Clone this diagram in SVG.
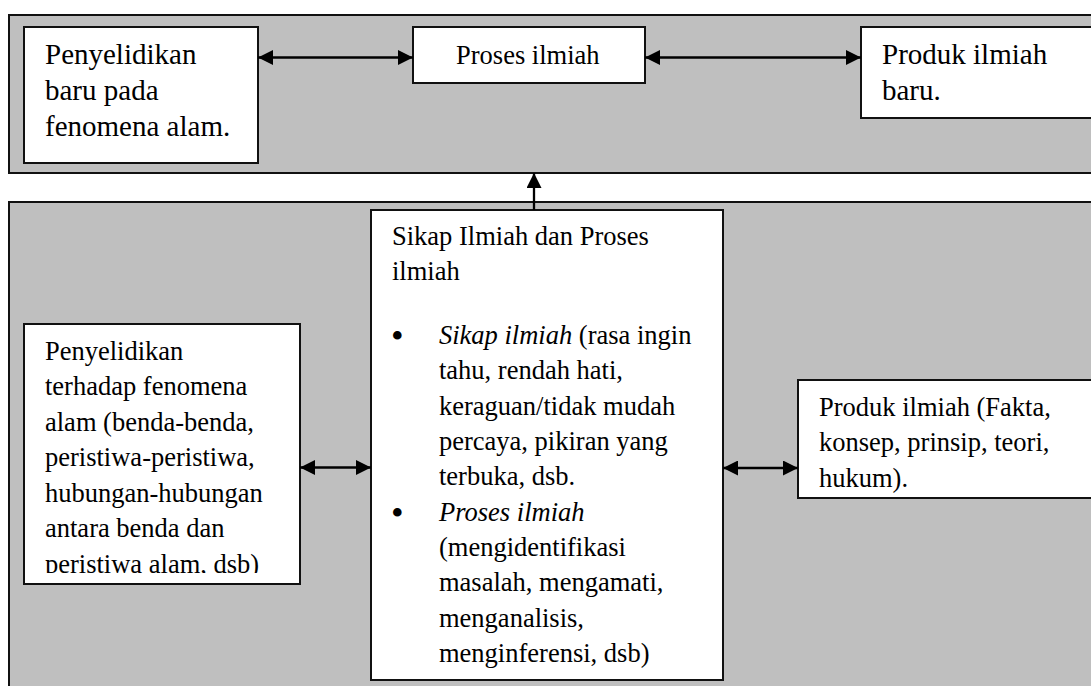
<svg xmlns="http://www.w3.org/2000/svg" width="1091" height="686" viewBox="0 0 1091 686">
<style>
.panel{fill:#bfbfbf;stroke:#111;stroke-width:2}
.box{fill:#fff;stroke:#111;stroke-width:2}
.t{font-family:"Liberation Serif","Times New Roman",serif;font-size:26.5px;fill:#000}
.big{font-size:29px}
.it{font-style:italic}
.bul{font-size:36px}
.conn{stroke:#000;stroke-width:2.3;fill:none}
</style>
<defs>
<marker id="ah" viewBox="0 0 15 15" markerWidth="15" markerHeight="15" refX="15" refY="7.5" orient="auto-start-reverse" markerUnits="userSpaceOnUse">
<path d="M0,0 L15,7.5 L0,15 Z" fill="#000"/>
</marker>
<clipPath id="clipL"><rect x="24" y="324" width="276" height="249"/></clipPath>
</defs>
<rect width="1091" height="686" fill="#fff"/>
<g id="panel-top"><rect class="panel" x="9" y="15" width="1100" height="158"/></g>
<g id="panel-bottom"><rect class="panel" x="9" y="202" width="1100" height="500"/></g>

<g id="node-penyelidikan-baru" font-family="'Liberation Serif', serif">
<rect class="box" x="24" y="27" width="234" height="136"/>
<text class="t big" x="45" y="64">Penyelidikan</text>
<text class="t big" x="45" y="100">baru pada</text>
<text class="t big" x="45" y="136">fenomena alam.</text>
</g>
<g id="node-proses-ilmiah" font-family="'Liberation Serif', serif">
<rect class="box" x="413" y="27" width="232" height="56"/>
<text class="t" x="456" y="64">Proses ilmiah</text>
</g>
<g id="node-produk-baru" font-family="'Liberation Serif', serif">
<rect class="box" x="861" y="27" width="250" height="91"/>
<text class="t big" x="882" y="64">Produk ilmiah</text>
<text class="t big" x="882" y="100">baru.</text>
</g>

<g id="node-penyelidikan-fenomena" font-family="'Liberation Serif', serif">
<rect class="box" x="24" y="324" width="276" height="260"/>
<g clip-path="url(#clipL)">
<text class="t" x="45" y="359.5">Penyelidikan</text>
<text class="t" x="45" y="395">terhadap fenomena</text>
<text class="t" x="45" y="430.5">alam (benda-benda,</text>
<text class="t" x="45" y="466">peristiwa-peristiwa,</text>
<text class="t" x="45" y="501.5">hubungan-hubungan</text>
<text class="t" x="45" y="537">antara benda dan</text>
<text class="t" x="45" y="572.5">peristiwa alam, dsb)</text>
</g>
</g>

<g id="node-sikap-proses" font-family="'Liberation Serif', serif">
<rect class="box" x="371" y="210" width="352" height="470"/>
<text class="t" x="392" y="245">Sikap Ilmiah dan Proses</text>
<text class="t" x="392" y="280">ilmiah</text>
<text class="t bul" x="391" y="348">•</text>
<text class="t" x="439" y="344"><tspan class="it">Sikap ilmiah</tspan> (rasa ingin</text>
<text class="t" x="439" y="379.3">tahu, rendah hati,</text>
<text class="t" x="439" y="414.6">keraguan/tidak mudah</text>
<text class="t" x="439" y="450">percaya, pikiran yang</text>
<text class="t" x="439" y="485.3">terbuka, dsb.</text>
<text class="t bul" x="391" y="524.6">•</text>
<text class="t it" x="439" y="520.6">Proses ilmiah</text>
<text class="t" x="439" y="556">(mengidentifikasi</text>
<text class="t" x="439" y="591.3">masalah, mengamati,</text>
<text class="t" x="439" y="626.6">menganalisis,</text>
<text class="t" x="439" y="662">menginferensi, dsb)</text>
</g>

<g id="node-produk-ilmiah" font-family="'Liberation Serif', serif">
<rect class="box" x="798" y="380" width="313" height="118"/>
<text class="t" x="819" y="415.5">Produk ilmiah (Fakta,</text>
<text class="t" x="819" y="451">konsep, prinsip, teori,</text>
<text class="t" x="819" y="486.5">hukum).</text>
</g>

<g id="connectors">
<line class="conn" x1="258" y1="57.5" x2="413" y2="57.5" marker-start="url(#ah)" marker-end="url(#ah)"/>
<line class="conn" x1="645" y1="57.5" x2="861" y2="57.5" marker-start="url(#ah)" marker-end="url(#ah)"/>
<line class="conn" x1="534" y1="210" x2="534" y2="173" marker-end="url(#ah)"/>
<line class="conn" x1="300" y1="467.5" x2="371" y2="467.5" marker-start="url(#ah)" marker-end="url(#ah)"/>
<line class="conn" x1="723" y1="468" x2="798" y2="468" marker-start="url(#ah)" marker-end="url(#ah)"/>
</g>
</svg>
